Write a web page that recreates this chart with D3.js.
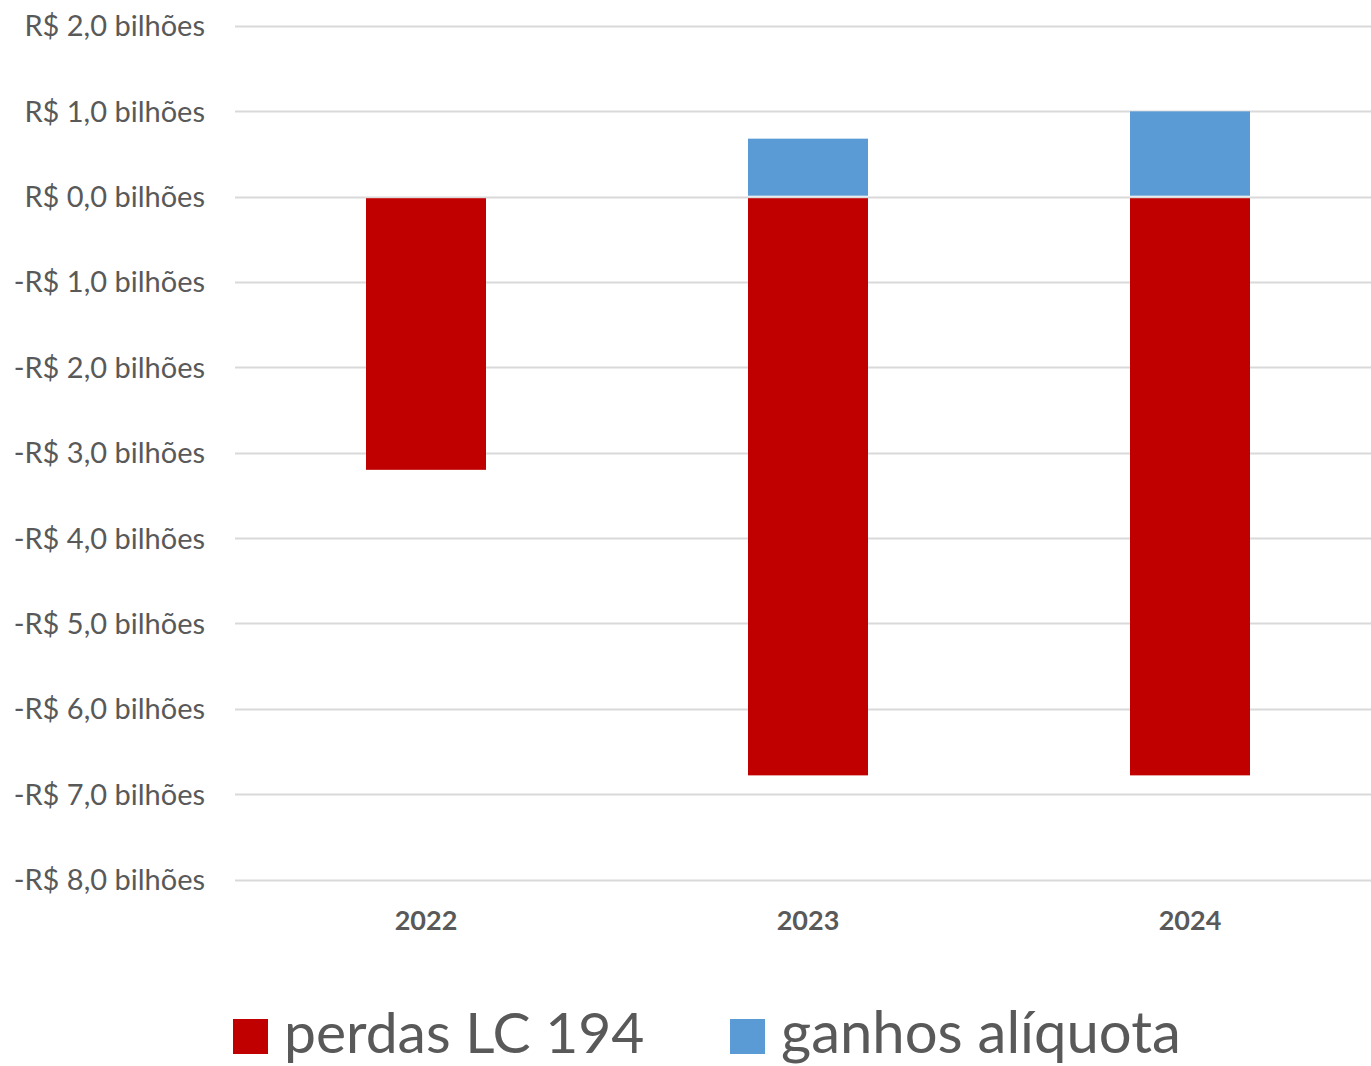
<!DOCTYPE html>
<html>
<head>
<meta charset="utf-8">
<script src="https://cdn.jsdelivr.net/npm/d3@7"></script>
<style>
  body { margin: 0; background: #fff; }
  text { font-family: Lato, "Open Sans", sans-serif; fill: #595959; }
</style>
</head>
<body>
<script>
// dados (bilhões de R$)
const anos = ["2022", "2023", "2024"];
const perdas = [-3.2, -6.78, -6.78];
const ganhos = [0, 0.68, 1.0];
const yTicks = [2, 1, 0, -1, -2, -3, -4, -5, -6, -7, -8];
const serieNomes = ["perdas LC 194", "ganhos alíquota"];
const cores = ["#C00000", "#5B9BD5"];

const W = 1371, H = 1066;
const svg = d3.select("body").append("svg").attr("width", W).attr("height", H);

let x = d3.scaleBand().domain(anos).range([235, 1381]);
let y = d3.scaleLinear().domain([-8, 2]).range([879.5, 26]);

function fmt(v) {
    let s = "R$ " + Math.abs(v).toFixed(1).replace(".", ",") + " bilhões";
    return v < 0 ? "-" + s : s;
}

// grade
svg.append("g").selectAll("line").data(yTicks).enter().append("line")
    .attr("x1", 235).attr("x2", W)
    .attr("y1", d => Math.round(y(d)) + 0.5).attr("y2", d => Math.round(y(d)) + 0.5)
    .attr("stroke", "#d9d9d9").attr("stroke-width", 2);

// rótulos do eixo y
svg.append("g").selectAll("text").data(yTicks).enter().append("text")
    .attr("x", 205).attr("y", d => y(d))
    .attr("dy", "0.36em")
    .attr("text-anchor", "end")
    .style("font-size", "29px")
    .text(fmt);

const bw = 120;
// barras
const dados = anos.map((a, i) => ({ano: a, p: perdas[i], g: ganhos[i]}));
svg.append("g").selectAll("rect").data(dados).enter().append("rect")
    .attr("x", d => x(d.ano) + x.bandwidth() / 2 - bw / 2)
    .attr("width", bw)
    .attr("y", d => y(0) + 1.5)
    .attr("height", d => y(d.p) - y(0) - 1.5)
    .attr("fill", cores[0]);
svg.append("g").selectAll("rect").data(dados.filter(d => d.g > 0)).enter().append("rect")
    .attr("x", d => x(d.ano) + x.bandwidth() / 2 - bw / 2)
    .attr("width", bw)
    .attr("y", d => y(d.g))
    .attr("height", d => y(0) - y(d.g) - 1)
    .attr("fill", cores[1]);

// eixo x
svg.append("g").selectAll("text").data(anos).enter().append("text")
    .attr("x", d => x(d) + x.bandwidth() / 2)
    .attr("y", 930)
    .attr("text-anchor", "middle")
    .style("font-size", "27px").style("font-weight", "bold")
    .text(d => d);

// legenda
const legX = [233, 730];
const legSize = ["57px", "58px"];
const leg = svg.append("g").selectAll("g").data(serieNomes).enter().append("g");
leg.append("rect")
    .attr("x", (d, i) => legX[i]).attr("y", 1019)
    .attr("width", 35).attr("height", 35)
    .attr("fill", (d, i) => cores[i]);
leg.append("text")
    .attr("x", (d, i) => legX[i] + 51).attr("y", 1053)
    .style("font-size", (d, i) => legSize[i])
    .text(d => d);
</script>
</body>
</html>
